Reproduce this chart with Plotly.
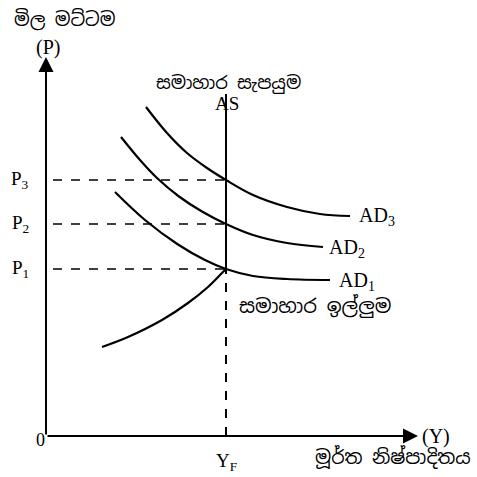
import plotly.graph_objects as go

# Data (x = output Y, y = price level P), arbitrary units
YF = 180
P_levels = [167, 212, 256]
P_labels = ["P<sub>1</sub>", "P<sub>2</sub>", "P<sub>3</sub>"]

ad1_x = [69, 99, 132, 159, 180, 207, 241, 284]
ad1_y = [244, 216, 191.5, 176, 167, 160, 157, 156]
ad2_x = [75, 94, 111, 133, 156, 180, 207, 241, 277]
ad2_y = [299, 276, 258, 239.5, 224.5, 212, 201, 193, 189]
ad3_x = [100, 121, 141, 161, 180, 207, 241, 274, 304]
ad3_y = [329, 303, 283, 268, 256, 241, 229, 222, 220]
ad_labels = ["AD<sub>1</sub>", "AD<sub>2</sub>", "AD<sub>3</sub>"]

sup_x = [56, 82, 116, 142, 162, 176, 180]
sup_y = [89, 99, 116, 133, 149, 163, 167]

as_top = 342
y_axis_top = 379
x_axis_end = 372

SERIF = "Liberation Serif"
SIN = "Noto Sans Sinhala, Noto Serif Sinhala, Iskoola Pota, sans-serif"

fig = go.Figure()

for xs, ys in [(ad1_x, ad1_y), (ad2_x, ad2_y), (ad3_x, ad3_y), (sup_x, sup_y)]:
    fig.add_trace(go.Scatter(x=xs, y=ys, mode="lines",
                             line=dict(color="black", width=2.2, shape="spline", smoothing=1.0),
                             hoverinfo="skip"))

# AS vertical line
fig.add_trace(go.Scatter(x=[YF, YF], y=[P_levels[0], as_top], mode="lines",
                         line=dict(color="black", width=2), hoverinfo="skip"))
# dashed YF
fig.add_trace(go.Scatter(x=[YF, YF], y=[0, P_levels[0]], mode="lines",
                         line=dict(color="black", width=2, dash="dash"), hoverinfo="skip"))
# dashed price lines
for p in P_levels:
    fig.add_trace(go.Scatter(x=[7, YF], y=[p, p], mode="lines",
                             line=dict(color="black", width=1.7, dash="dash"), hoverinfo="skip"))

anns = []
# axes with arrows
anns.append(dict(x=0, y=y_axis_top, ax=0, ay=0, xref="x", yref="y", axref="x", ayref="y",
                 showarrow=True, arrowhead=2, arrowsize=1.5, arrowwidth=2, arrowcolor="black", text=""))
anns.append(dict(x=x_axis_end, y=0, ax=0, ay=0, xref="x", yref="y", axref="x", ayref="y",
                 showarrow=True, arrowhead=2, arrowsize=1.5, arrowwidth=2, arrowcolor="black", text=""))

def txt(x, y, t, size=19, font=SERIF, xanchor="center"):
    anns.append(dict(x=x, y=y, xref="x", yref="y", text=t, showarrow=False, xanchor=xanchor, yanchor="middle",
                     font=dict(family=font, size=size, color="black")))

for p, lab in zip(P_levels, P_labels):
    txt(-26, p, lab)
txt(311, 220, ad_labels[2], 20, xanchor="left")
txt(281, 188, ad_labels[1], 20, xanchor="left")
txt(291, 155, ad_labels[0], 20, xanchor="left")
txt(2, 389, "(P)", 20)
txt(-34, 417, "මිල මට්ටම", 18.5, SIN, xanchor="left")
txt(108, 354, "සමාහාර සැපයුම", 18, SIN, xanchor="left")
txt(181, 333, "AS", 19)
txt(191, 130, "සමාහාර ඉල්ලුම", 19.5, SIN, xanchor="left")
txt(-6, -4, "0", 18)
txt(180, -26, "Y<sub>F</sub>", 19)
txt(374, 0, "(Y)", 20, xanchor="left")
txt(267, -21, "මූර්ත නිෂ්පාදිතය", 19, SIN, xanchor="left")

fig.update_layout(
    width=477, height=477, margin=dict(l=0, r=0, t=0, b=0),
    plot_bgcolor="white", paper_bgcolor="white", showlegend=False,
    xaxis=dict(range=[-46, 431], visible=False, fixedrange=True),
    yaxis=dict(range=[-41, 436], visible=False, fixedrange=True),
    annotations=anns,
)
fig.write_html("out.html", config={"displayModeBar": False},
               post_script="document.body.style.margin='0';")
